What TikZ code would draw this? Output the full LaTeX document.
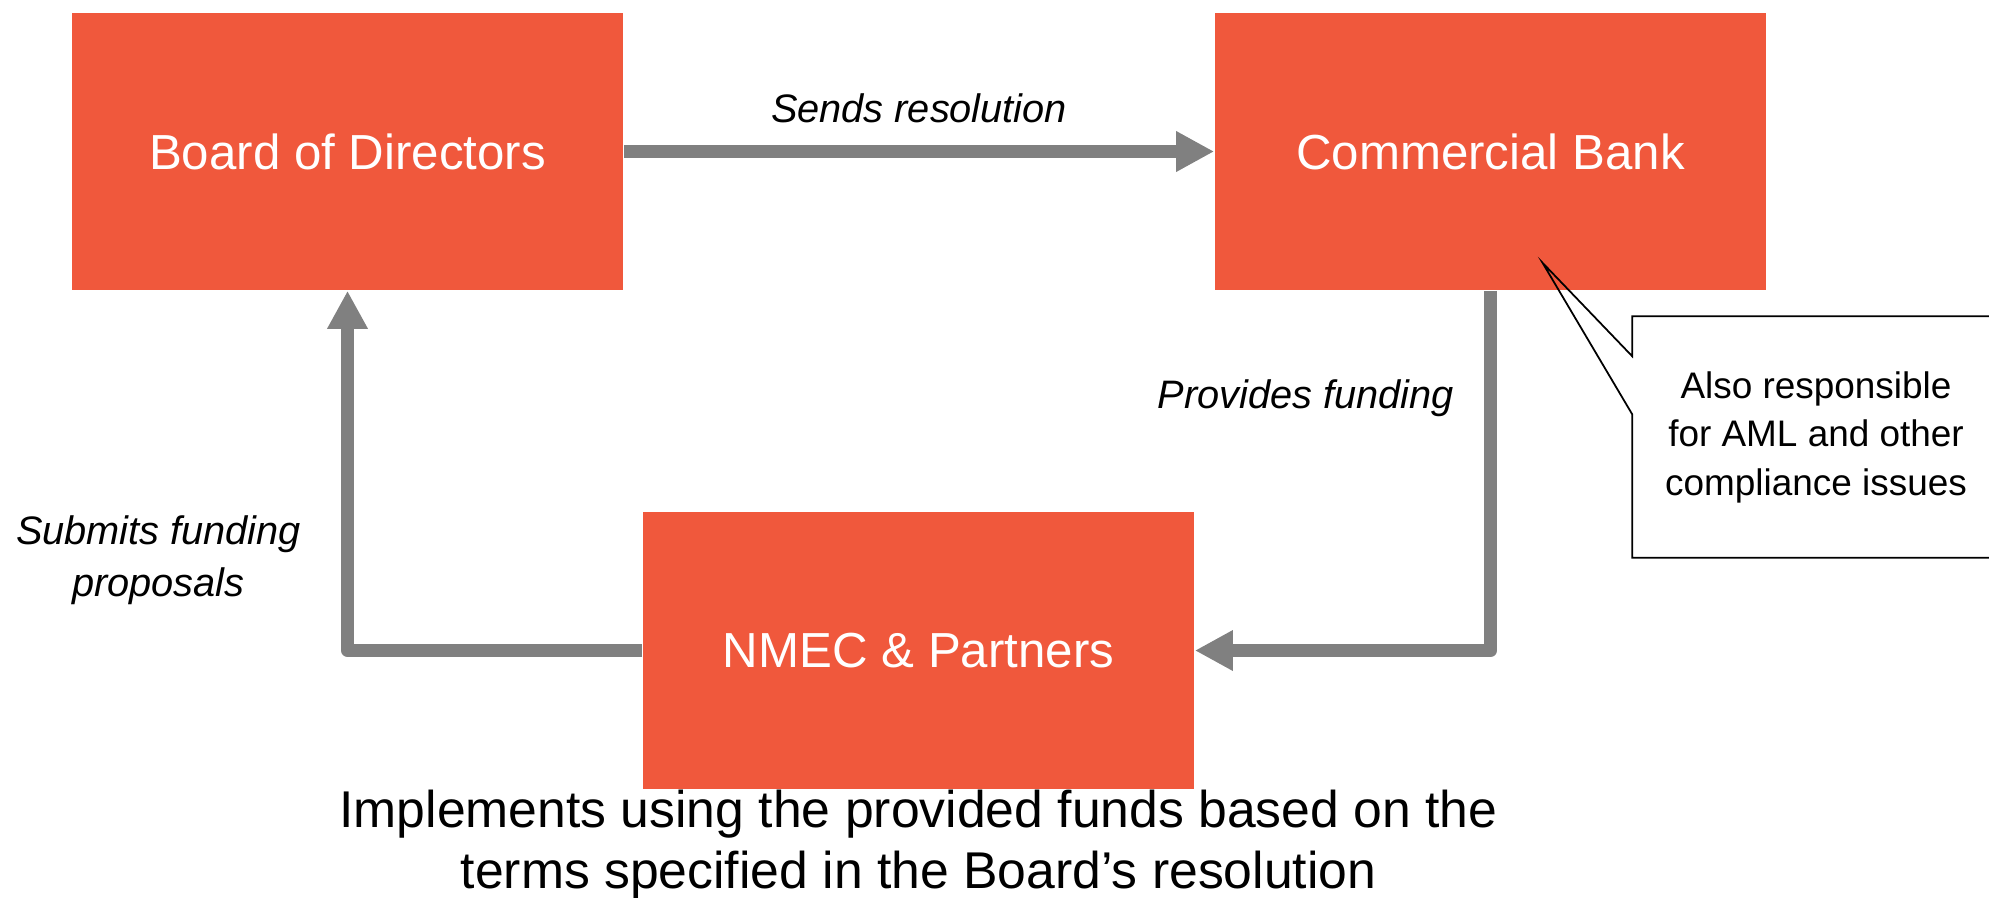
\documentclass[tikz,border=0pt]{standalone}
\usepackage{fontspec}
\setmainfont{Liberation Sans}
\usetikzlibrary{arrows.meta,positioning}
\definecolor{boxorange}{RGB}{240,88,60}
\definecolor{flowgray}{RGB}{128,128,128}
\tikzset{
    party/.style={fill=boxorange, text=white, minimum width=5.51cm, minimum height=2.77cm, font=\fontsize{14}{17}\selectfont},
    flow/.style={flowgray, line width=0.13cm, line join=round, -{Triangle[length=0.38cm,width=0.38cm]}},
    flowlabel/.style={text=black, inner sep=0pt, align=center, font=\fontsize{11.3}{14.8}\selectfont\itshape}
}
\begin{document}
\begin{tikzpicture}[x=0.01cm,y=-0.01cm]
    \useasboundingbox (0,0) rectangle (1989,897);
    \node[party] (board) at (347.5,151.5) {Board of Directors};
    \node[party] (bank) at (1490.5,151.5) {Commercial Bank};
    \node[party] (nmec) at (918.5,650.5) {NMEC \& Partners};
    \draw[flow] (board) -- (bank) node[midway, above=0.22cm, flowlabel] {Sends resolution};
    \draw[flow] (bank.south) |- (nmec.east) node[pos=0.15, left=0.30cm, flowlabel] {Provides funding};
    \draw[flow] (nmec.west) -| (board.south) node[pos=0.625, left=0.40cm, flowlabel] {Submits funding\\proposals};
    \node[align=center, minimum width=3.66cm, minimum height=2.4cm, font=\fontsize{10.5}{13.8}\selectfont] (note) at (1816,437) {Also responsible\\for AML and other\\compliance issues};
    \coordinate (tip) at ([shift={(52,-28)}]bank.south);
    \draw[line width=0.5pt] (note.north west) -- ([yshift=-0.4cm]note.north west) -- (tip)
        -- ([yshift=-0.98cm]note.north west) -- (note.south west) -- (note.south east) -- (note.north east) -- cycle;
    \node[below=0pt of nmec, inner sep=0pt, align=center, font=\fontsize{14.7}{17.3}\selectfont] (impl) {Implements using the provided funds based on the\\terms specified in the Board’s resolution};
\end{tikzpicture}
\end{document}
